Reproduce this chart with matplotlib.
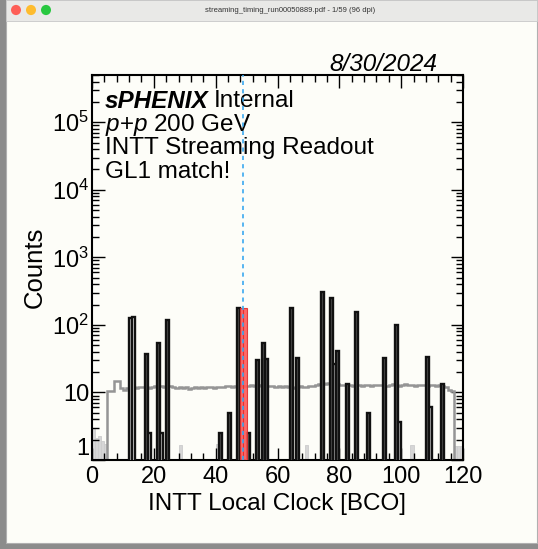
import math
import matplotlib
matplotlib.use('Agg')
import matplotlib.pyplot as plt
from matplotlib.patches import Rectangle, Circle
from matplotlib.ticker import MultipleLocator, LogLocator, FixedLocator, FuncFormatter, NullFormatter

plt.rcParams['font.family'] = ['Liberation Sans', 'DejaVu Sans']
plt.rcParams['mathtext.fontset'] = 'custom'
plt.rcParams['mathtext.rm'] = 'Liberation Sans'
plt.rcParams['mathtext.it'] = 'Liberation Sans:italic'
plt.rcParams['mathtext.bf'] = 'Liberation Sans:bold'

# all-hit histogram (grey step), bins 5..116
gray_start = 5
gray_counts = [10.5, 10.5, 15, 15, 11.5, 11,
               11.5, 12, 12, 11.8, 12, 12.2, 12, 11.8, 12, 12.3,
               12.5, 12.4, 12.2, 12.6, 12.4, 12, 11.8, 12.1, 11.6, 11.9,
               11.4, 11.8, 12, 11.5, 12.1, 11.7, 11.9, 12.2, 11.8, 12,
               12.1, 11.9, 12.3, 12.5, 12.2, 12.6, 12.8, 12.4, 12.6, 12.5,
               12.7, 12.4, 12.6, 12.8, 12.5, 12.4, 12.3, 12.6, 12.2, 12.4,
               12.1, 12.3, 11.9, 12.2, 11.8, 12, 12.3, 12.1, 11.9, 12.4,
               12.6, 12.8, 13.2, 13.8, 13.5, 14, 13.6, 13.9, 13.4, 13.1,
               12.9, 13, 12.8, 12.6, 12.9, 12.7, 12.6, 12.8, 12.9, 12.5,
               12.7, 12.8, 13, 12.6, 12.4, 12.8, 13.2, 13, 12.6, 12.8,
               13.3, 13.1, 12.8, 12.6, 12.9, 12.7, 12.8, 12.6, 12.9, 12.8,
               12.6, 12.9, 12.5, 12.1, 11, 10.5]

# faint low-count bins
faint_bins = [0, 1, 2, 3, 4, 28, 40, 69, 103, 117, 118, 119]
faint_counts = [2.5, 1.6, 1.8, 1.4, 1.2, 1.15, 1.2, 1.15, 1.15, 1.1, 1.1, 1.1]

# GL1-matched peaks (dark bins)
dark_bins = [17, 21, 24, 41, 44, 47, 50, 53, 55, 56, 64, 66, 74, 77, 79, 82, 85, 89, 94, 98, 108, 113]
dark_counts = [37, 54, 118, 2, 4.4, 180, 2, 30, 54, 31, 175, 32, 310, 250, 41, 13, 155, 4.4, 32, 98, 33, 13]

# open (white) bins
open_bins = [12, 13, 18, 22, 78, 99, 109]
open_counts = [125, 132, 2, 2, 26, 3.2, 5.6]

# selected bins (red)
red_bins = [48, 49]
red_counts = [180, 180]
cut_bco = 49

fig = plt.figure(figsize=(5.38, 5.49), dpi=100)
fig.patch.set_facecolor('#8c8c8c')

# window frame
fig.patches.append(Rectangle((6 / 538, 6 / 549), 531 / 538, 543 / 549, transform=fig.transFigure,
                             facecolor='#fdfdf8', edgecolor='#b0b0b0', lw=0.8, zorder=-10))
fig.patches.append(Rectangle((6 / 538, 1 - 21 / 549), 531 / 538, 21 / 549, transform=fig.transFigure,
                             facecolor='#e9e9e7', edgecolor='#c8c8c8', lw=0.6, zorder=-9))
for cx, col in [(16, '#fe5f57'), (31, '#febc2e'), (46, '#28c840')]:
    fig.patches.append(Circle((cx / 538, 1 - 10 / 549), 5 / 538, transform=fig.transFigure,
                              facecolor=col, edgecolor='none', zorder=-8))
fig.text(290 / 538, 1 - 10 / 549, 'streaming_timing_run00050889.pdf - 1/59 (96 dpi)',
         ha='center', va='center', fontsize=5.5, color='#333333')

ax = fig.add_axes([92 / 538, 1 - 460 / 549, 371 / 538, 385 / 549])
ax.set_facecolor('#fdfdf8')

edges = list(range(gray_start, gray_start + len(gray_counts) + 1))
ax.stairs(gray_counts, edges, baseline=0.5, color='#959595', lw=1.8, zorder=2)
ax.bar(faint_bins, faint_counts, width=1, align='edge', bottom=0.5,
       color='#d6d6d6', edgecolor='#cccccc', lw=0.6, zorder=1)
ax.bar(open_bins, open_counts, width=1, align='edge', bottom=0.5,
       facecolor='white', edgecolor='#111111', lw=1.7, zorder=3)
ax.bar(dark_bins, dark_counts, width=1, align='edge', bottom=0.5,
       facecolor='#5a5a5a', edgecolor='#111111', lw=1.7, zorder=4)
ax.bar(red_bins, red_counts, width=1, align='edge', bottom=0.5,
       facecolor='#ff5a5a', edgecolor='#e03030', lw=0.8, alpha=0.9, zorder=5)
ax.axvline(cut_bco, color='#3aa8f0', lw=1.2, ls=(0, (2.5, 2.5)), zorder=6)

ax.set_xlim(0, 120)
ax.set_yscale('log')
ax.set_ylim(1, 5e5)

ax.xaxis.set_major_locator(MultipleLocator(20))
ax.xaxis.set_minor_locator(MultipleLocator(4))
ax.yaxis.set_major_locator(FixedLocator([1, 10, 100, 1e3, 1e4, 1e5]))
ax.yaxis.set_minor_locator(LogLocator(base=10, subs=range(2, 10), numticks=20))
ax.yaxis.set_minor_formatter(NullFormatter())


def ylab(v, pos):
    if v == 1:
        return '1'
    if v == 10:
        return '10'
    n = int(round(math.log10(v)))
    return r'$\mathregular{10^{%d}}$' % n


ax.yaxis.set_major_formatter(FuncFormatter(ylab))
ax.tick_params(which='both', direction='in', top=True, right=True, labelsize=17, width=1)
ax.tick_params(which='major', length=9)
ax.tick_params(which='minor', length=5)
ax.tick_params(axis='x', which='major', pad=4)
ax.tick_params(axis='y', which='major', pad=2)
for s in ax.spines.values():
    s.set_linewidth(1.5)

ax.set_xlabel('INTT Local Clock [BCO]', fontsize=17.5, labelpad=4)
ax.set_ylabel('Counts', fontsize=18.5, labelpad=4)

fig.text(437 / 538, 1 - 64 / 549, '8/30/2024', ha='right', va='center', fontsize=17.5, style='italic')

txt_size = 17.5
t1 = ax.text(0.035, 0.932, 'sPHENIX', transform=ax.transAxes, fontsize=txt_size,
             fontweight='bold', style='italic', va='center')
fig.canvas.draw()
bb = t1.get_window_extent().transformed(ax.transAxes.inverted())
ax.text(bb.x1 + 0.014, 0.932, 'Internal', transform=ax.transAxes, fontsize=txt_size, va='center')
ax.text(0.035, 0.871, r'$\mathit{p}$+$\mathit{p}$ 200 GeV', transform=ax.transAxes, fontsize=txt_size, va='center')
ax.text(0.035, 0.810, 'INTT Streaming Readout', transform=ax.transAxes, fontsize=txt_size, va='center')
ax.text(0.035, 0.748, 'GL1 match!', transform=ax.transAxes, fontsize=txt_size, va='center')

# lift the "1" label a little, as ROOT does, so it clears the x "0"
ax.yaxis.get_major_ticks()[0].label1.set_va('bottom')

fig.savefig('out.png', dpi=100, facecolor=fig.get_facecolor())
